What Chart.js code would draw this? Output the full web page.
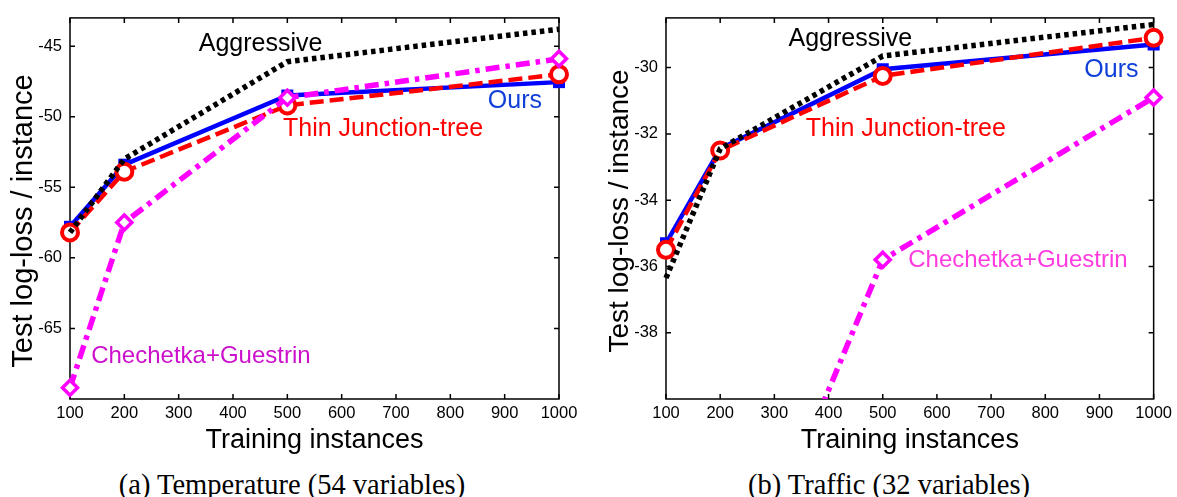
<!DOCTYPE html>
<html>
<head>
<meta charset="utf-8">
<script src="https://cdn.jsdelivr.net/npm/chart.js@4.4.0/dist/chart.umd.min.js"></script>
<style>
  body { margin: 0; background: #fff; width: 1177px; height: 497px; position: relative; overflow: hidden; }
  canvas { position: absolute; top: 0; }
  #chartA { left: 0; }
  #chartB { left: 596px; }
  .caption { position: absolute; top: 471px; font-family: "Liberation Serif", serif; font-size: 28.5px; line-height: 28px; color: #000; white-space: nowrap; transform: translateX(-50%); }
</style>
</head>
<body>
<canvas id="chartA" width="590" height="460"></canvas>
<canvas id="chartB" width="581" height="460"></canvas>
<div class="caption" style="left:292px">(a) Temperature (54 variables)</div>
<div class="caption" style="left:889px">(b) Traffic (32 variables)</div>
<script>
// training set sizes
const instances = [100, 200, 500, 1000];
const xTicks = [100, 200, 300, 400, 500, 600, 700, 800, 900, 1000];

// (a) Temperature
const tempAggressive = [-58.2, -53.0, -46.1, -43.8];
const tempChechetka = [-69.2, -57.5, -48.65, -45.9];
const tempThinJT = [-58.2, -53.9, -49.2, -47.0];
const tempOurs = [-57.8, -53.4, -48.5, -47.55];
const tempYTicks = [-65, -60, -55, -50, -45];

// (b) Traffic
const trafAggressive = [-36.35, -32.45, -29.65, -28.7];
const trafChechetka = [-58.0, -47.6, -35.8, -30.9];
const trafThinJT = [-35.5, -32.5, -30.25, -29.1];
const trafOurs = [-35.3, -32.45, -30.05, -29.3];
const trafYTicks = [-38, -36, -34, -32, -30];

Chart.defaults.font.family = "'Liberation Sans', Arial, sans-serif";
Chart.defaults.color = "#000";

function pairs(values) {
  return instances.map((x, i) => ({ x: x, y: values[i] }));
}

function makeDatasets(agg, chech, thin, ours, chechClip) {
  return [
    {
      label: "Aggressive",
      data: pairs(agg),
      borderColor: "#000",
      borderWidth: 5.5,
      borderDash: [4.5, 4],
      pointRadius: 0,
      clip: 14,
    },
    {
      label: "Chechetka+Guestrin",
      data: pairs(chech),
      borderColor: "#ff00ff",
      borderWidth: 5.5,
      borderDash: [14, 6, 4.5, 6],
      pointStyle: "rectRot",
      pointRadius: 7.5,
      pointBorderWidth: 3.5,
      pointBorderColor: "#ff00ff",
      pointBackgroundColor: "#fff",
      clip: chechClip,
    },
    {
      label: "Thin Junction-tree",
      data: pairs(thin),
      borderColor: "#ff0000",
      borderWidth: 4.5,
      borderDash: [14, 6],
      pointStyle: "circle",
      pointRadius: 8,
      pointBorderWidth: 4,
      pointBorderColor: "#ff0000",
      pointBackgroundColor: "#fff",
      clip: 14,
    },
    {
      label: "Ours",
      data: pairs(ours),
      borderColor: "#0000ff",
      borderWidth: 4.5,
      pointStyle: "rect",
      pointRadius: 8.5,
      pointBorderWidth: 0,
      pointBackgroundColor: "#0000ff",
      clip: 14,
    },
  ];
}

// frame with inward ticks, in-plot labels and the y title
const decor = {
  id: "decor",
  beforeDatasetsDraw(chart, args, opts) {
    const { ctx, chartArea: a, scales } = chart;
    const x = scales.x, y = scales.y;
    ctx.save();
    ctx.strokeStyle = "#000";
    ctx.lineWidth = 1.5;
    ctx.strokeRect(a.left, a.top, a.right - a.left, a.bottom - a.top);
    ctx.beginPath();
    x.ticks.forEach((t) => {
      const px = x.getPixelForValue(t.value);
      ctx.moveTo(px, a.bottom);
      ctx.lineTo(px, a.bottom - 5);
      ctx.moveTo(px, a.top);
      ctx.lineTo(px, a.top + 5);
    });
    y.ticks.forEach((t) => {
      const py = y.getPixelForValue(t.value);
      ctx.moveTo(a.left, py);
      ctx.lineTo(a.left + 5, py);
      ctx.moveTo(a.right, py);
      ctx.lineTo(a.right - 5, py);
    });
    ctx.stroke();
    ctx.restore();
  },
  afterDraw(chart, args, opts) {
    const { ctx, scales } = chart;
    ctx.save();
    ctx.textAlign = "left";
    ctx.textBaseline = "alphabetic";
    opts.notes.forEach((n) => {
      ctx.font = n.size + "px 'Liberation Sans', Arial, sans-serif";
      ctx.fillStyle = n.color;
      ctx.fillText(n.text, scales.x.getPixelForValue(n.x), scales.y.getPixelForValue(n.y));
    });
    const t = opts.yTitle;
    ctx.translate(t.x, t.y);
    ctx.rotate(-Math.PI / 2);
    ctx.textAlign = "center";
    ctx.fillStyle = "#000";
    ctx.font = t.size + "px 'Liberation Sans', Arial, sans-serif";
    ctx.fillText(t.text, 0, 0);
    ctx.restore();
  },
};

function makeChart(id, datasets, yMin, yMax, yTicks, pad, notes, yTitle) {
  return new Chart(document.getElementById(id), {
    type: "line",
    data: { datasets: datasets },
    plugins: [decor],
    options: {
      responsive: false,
      animation: false,
      events: [],
      layout: { padding: pad },
      scales: {
        x: {
          type: "linear",
          min: 100,
          max: 1000,
          afterBuildTicks: (s) => { s.ticks = xTicks.map((v) => ({ value: v })); },
          afterFit: (s) => { s.height = 61; },
          grid: { display: false, drawTicks: false },
          border: { display: false },
          ticks: {
            font: { size: 16.5 },
            padding: 5,
            maxRotation: 0,
            autoSkip: false,
            callback: (v) => String(v),
          },
          title: {
            display: true,
            text: "Training instances",
            font: { size: 27 },
            padding: { top: 0, bottom: 3 },
          },
        },
        y: {
          type: "linear",
          min: yMin,
          max: yMax,
          afterBuildTicks: (s) => { s.ticks = yTicks.map((v) => ({ value: v })); },
          afterFit: (s) => { s.width = 70; },
          grid: { display: false, drawTicks: false },
          border: { display: false },
          ticks: {
            font: { size: 16.5 },
            padding: 8,
            callback: (v) => String(v),
          },
        },
      },
      plugins: {
        legend: { display: false },
        tooltip: { enabled: false },
        decor: { notes: notes, yTitle: yTitle },
      },
    },
  });
}

makeChart(
  "chartA",
  makeDatasets(tempAggressive, tempChechetka, tempThinJT, tempOurs, 14),
  -70, -43, tempYTicks,
  { left: 0, top: 14, right: 31, bottom: 0 },
  [
    { text: "Aggressive", x: 337, y: -45.38, color: "#000", size: 25 },
    { text: "Ours", x: 869, y: -49.38, color: "#1040d8", size: 25 },
    { text: "Thin Junction-tree", x: 492, y: -51.35, color: "#ff0000", size: 25 },
    { text: "Chechetka+Guestrin", x: 139, y: -67.47, color: "#cc10cc", size: 24 },
  ],
  { text: "Test log-loss / instance", x: 32, y: 221, size: 29 }
);

makeChart(
  "chartB",
  makeDatasets(trafAggressive, trafChechetka, trafThinJT, trafOurs, { left: 14, top: 14, right: 14, bottom: 0 }),
  -40, -28.5, trafYTicks,
  { left: 0, top: 12.7, right: 20.3, bottom: 0 },
  [
    { text: "Aggressive", x: 326, y: -29.34, color: "#000", size: 25 },
    { text: "Ours", x: 872, y: -30.27, color: "#1040d8", size: 25 },
    { text: "Thin Junction-tree", x: 358, y: -32.07, color: "#ff0000", size: 25 },
    { text: "Chechetka+Guestrin", x: 547, y: -36.01, color: "#ff3be0", size: 24 },
  ],
  { text: "Test log-loss / instance", x: 32, y: 211, size: 28 }
);
</script>
</body>
</html>
